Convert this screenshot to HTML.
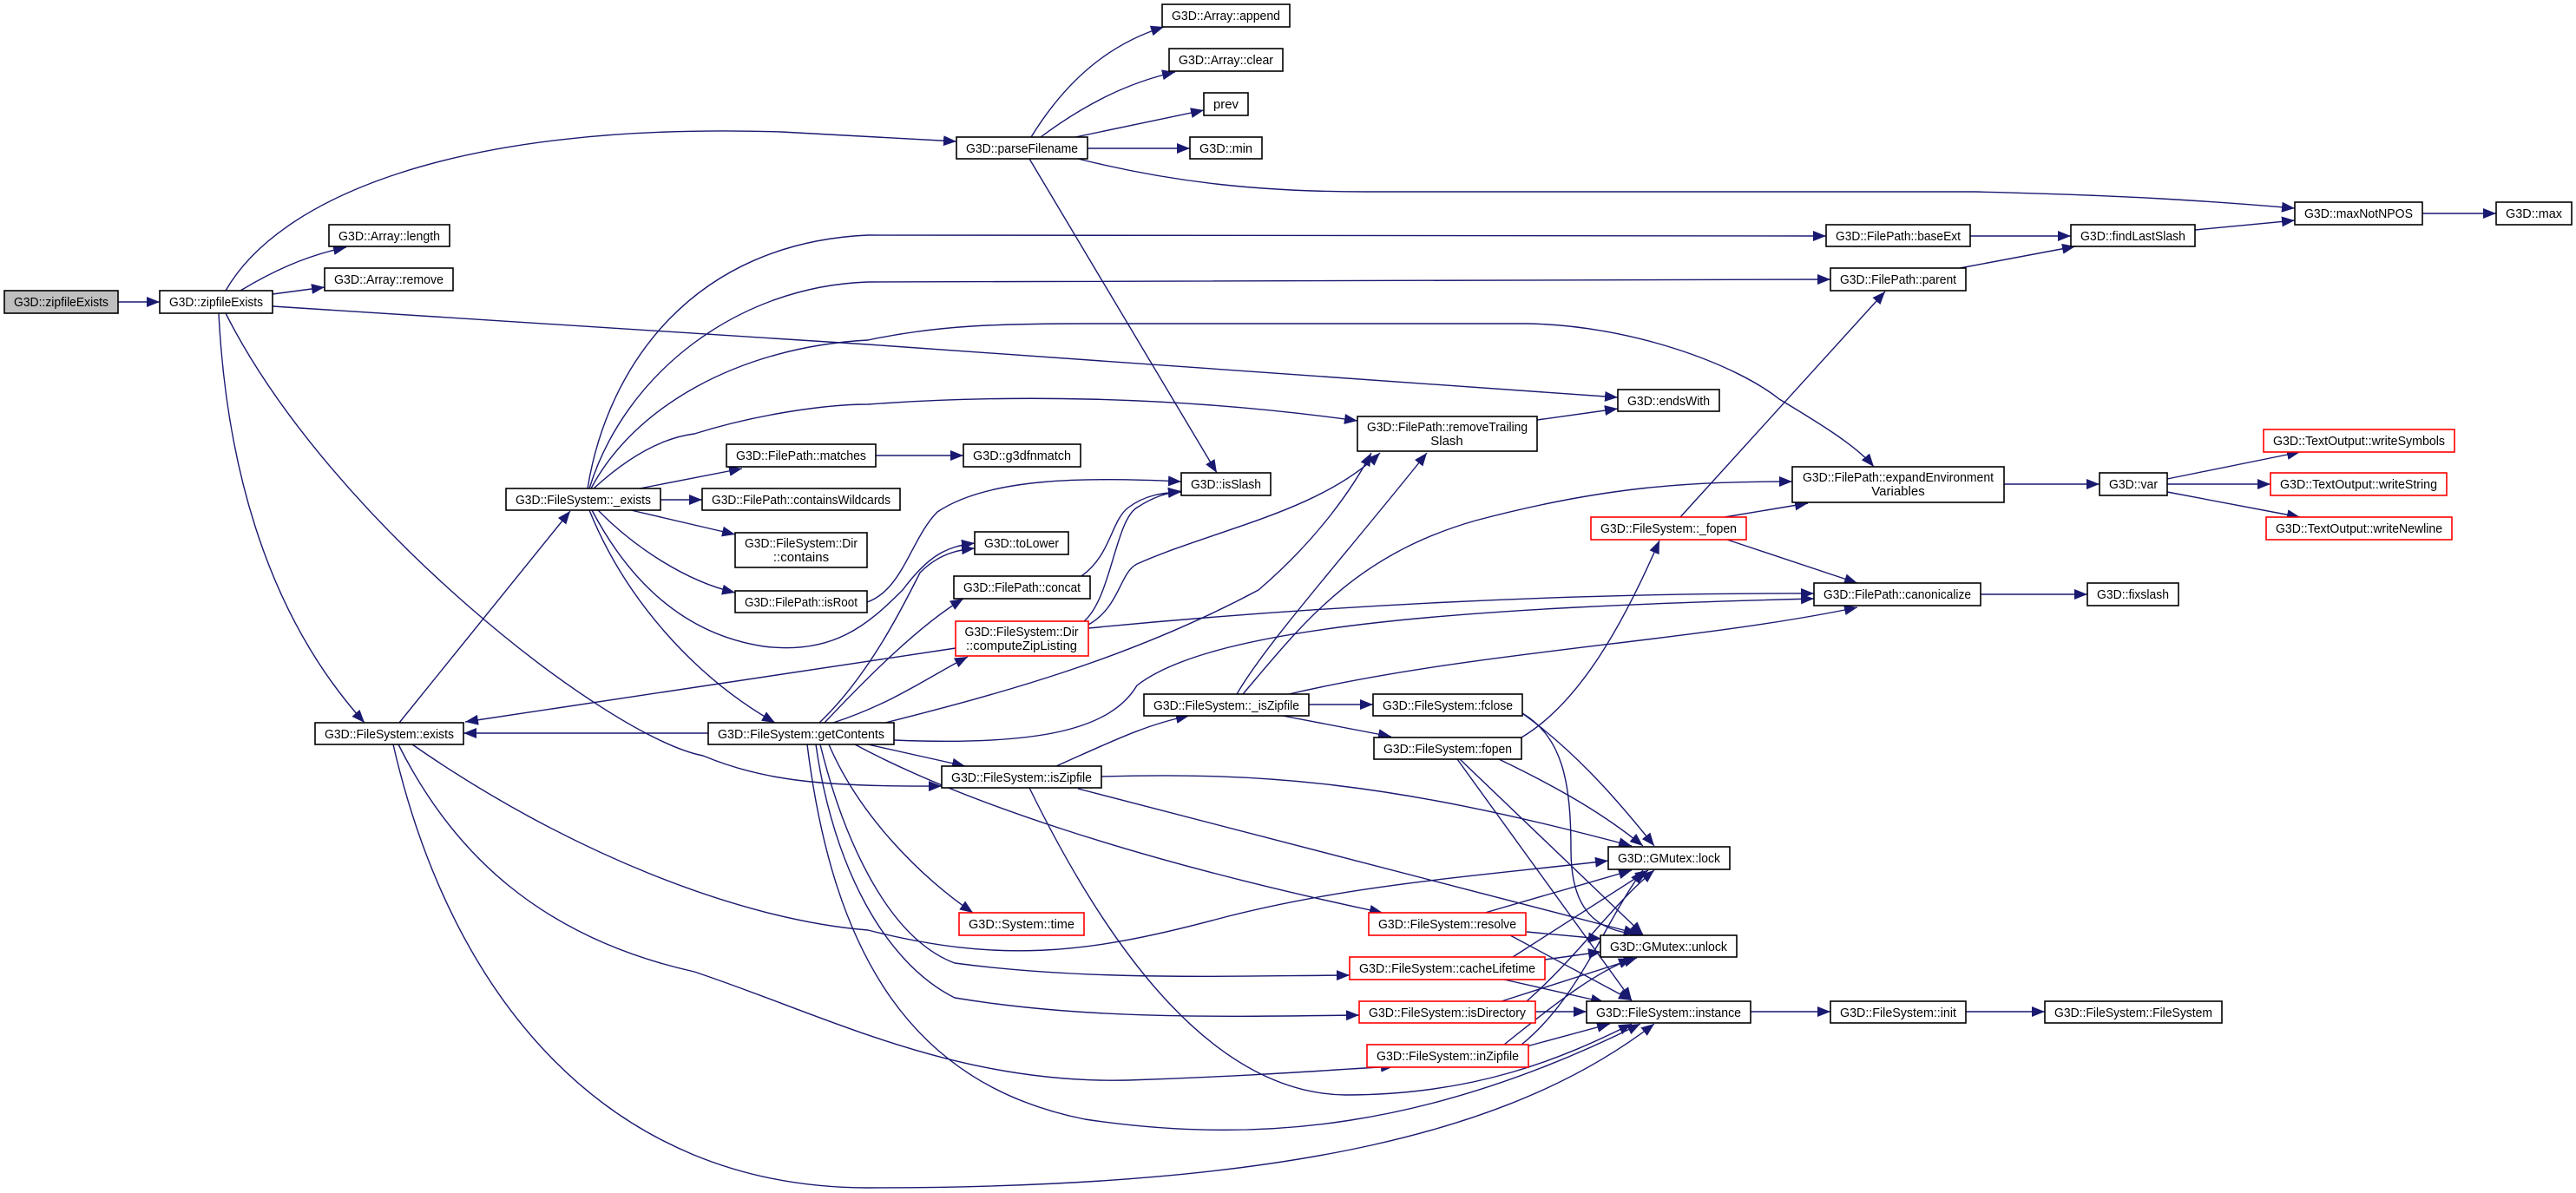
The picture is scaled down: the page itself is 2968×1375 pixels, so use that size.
<!DOCTYPE html>
<html><head><meta charset="utf-8"><style>
html,body{margin:0;padding:0;background:#fff;}
svg{display:block;}
text{font-family:"Liberation Sans","DejaVu Sans",sans-serif;font-size:15px;fill:#000;}
.n{fill:#fff;stroke:#000;stroke-width:1.6;}
.r{fill:#fff;stroke:#ff0000;stroke-width:1.6;}
.g{fill:#bfbfbf;stroke:#000;stroke-width:1.6;}
.e{fill:none;stroke:#191970;stroke-width:1.4;marker-end:url(#a);}
</style></head><body>
<svg width="2968" height="1375" viewBox="0 0 2968 1375" xmlns="http://www.w3.org/2000/svg">
<defs><marker id="a" markerUnits="userSpaceOnUse" markerWidth="16" markerHeight="12" refX="15" refY="6" orient="auto"><path d="M0,0 L15,6 L0,12 z" fill="#191970"/></marker></defs>
<g>
<path class="e" d="M136,348 L184,348"/>
<path class="e" d="M260,335 C320,230 520,140 900,152 L1102,163"/>
<path class="e" d="M277,335 C310,315 350,295 399,285"/>
<path class="e" d="M314,339 L374,331"/>
<path class="e" d="M314,353 L1000,397 L1864,458"/>
<path class="e" d="M252,361 C260,520 300,700 420,833"/>
<path class="e" d="M260,361 C380,600 700,850 810,871 C880,900 950,907 1085,906"/>
<path class="e" d="M677,563 C700,420 800,280 1000,271 L2104,272"/>
<path class="e" d="M679,563 C720,430 850,330 1000,325 L2109,322"/>
<path class="e" d="M681,563 C730,470 850,400 1000,392 C1080,375 1150,373 1250,373 L1760,373 C1880,375 2000,420 2050,460 C2100,490 2140,515 2159,538"/>
<path class="e" d="M684,563 C720,530 760,505 800,500 C870,478 950,466 1000,466 C1150,455 1350,455 1564,485"/>
<path class="e" d="M737,563 L855,540"/>
<path class="e" d="M761,576 L809,576"/>
<path class="e" d="M727,588 L847,616"/>
<path class="e" d="M689,588 C730,630 790,670 847,683"/>
<path class="e" d="M682,588 C720,660 780,730 880,745 C960,755 1000,720 1040,680 C1070,640 1090,630 1123,626"/>
<path class="e" d="M679,588 C720,690 800,780 893,833"/>
<path class="e" d="M460,833 L657,589"/>
<path class="e" d="M1009,525 L1110,525"/>
<path class="e" d="M999,694 C1040,680 1050,620 1080,590 C1140,550 1250,550 1361,555"/>
<path class="e" d="M816,845 L534,845"/>
<path class="e" d="M1101,747 L536,832"/>
<path class="e" d="M944,833 C1000,780 1040,700 1060,660 C1080,640 1100,634 1123,632"/>
<path class="e" d="M950,833 C1000,780 1060,720 1110,690"/>
<path class="e" d="M960,833 C1030,810 1070,780 1115,757"/>
<path class="e" d="M1246,664 C1280,640 1280,600 1300,585 C1320,570 1340,568 1361,567"/>
<path class="e" d="M1249,716 C1280,690 1285,600 1310,585 C1330,572 1345,568 1361,566"/>
<path class="e" d="M1020,833 C1150,800 1300,760 1450,680 C1520,620 1560,560 1580,522"/>
<path class="e" d="M1254,720 C1290,700 1290,660 1310,650 C1400,610 1520,590 1590,522"/>
<path class="e" d="M1425,800 C1460,740 1550,640 1644,522"/>
<path class="e" d="M1432,800 C1500,720 1560,640 1700,600 C1850,560 1950,555 2065,555"/>
<path class="e" d="M1254,724 C1500,700 1800,683 2090,684"/>
<path class="e" d="M1485,800 C1700,750 1950,740 2140,700"/>
<path class="e" d="M1030,853 C1200,860 1280,840 1310,790 C1400,720 1700,700 2090,690"/>
<path class="e" d="M1990,622 L2140,672"/>
<path class="e" d="M1987,596 L2083,580"/>
<path class="e" d="M1936,596 L2172,336"/>
<path class="e" d="M1753,850 C1820,810 1870,720 1912,623"/>
<path class="e" d="M1508,812 L1582,812"/>
<path class="e" d="M1478,825 L1603,849"/>
<path class="e" d="M1217,883 C1280,855 1320,835 1370,825"/>
<path class="e" d="M1000,858 L1112,883"/>
<path class="e" d="M955,858 C990,940 1060,1010 1121,1052"/>
<path class="e" d="M985,858 C1100,920 1300,990 1593,1052"/>
<path class="e" d="M945,858 C970,960 1020,1080 1100,1110 C1250,1130 1400,1125 1555,1124"/>
<path class="e" d="M940,858 C960,1000 1020,1110 1100,1150 C1250,1175 1400,1172 1566,1170"/>
<path class="e" d="M475,858 C650,980 850,1060 1000,1072 C1150,1110 1250,1100 1400,1060 C1550,1020 1700,1010 1853,992"/>
<path class="e" d="M459,858 C520,980 620,1080 800,1120 C950,1170 1100,1250 1300,1245 C1450,1240 1550,1232 1606,1229"/>
<path class="e" d="M453,858 C520,1150 700,1369 1000,1369 C1500,1369 1750,1300 1906,1180"/>
<path class="e" d="M930,858 C960,1100 1050,1250 1250,1290 C1450,1320 1650,1300 1890,1180"/>
<path class="e" d="M1186,908 C1280,1100 1400,1260 1550,1262 C1700,1262 1800,1220 1880,1180"/>
<path class="e" d="M1269,895 C1450,890 1600,900 1880,975"/>
<path class="e" d="M1242,909 L1886,1076"/>
<path class="e" d="M1754,822 C1820,870 1870,930 1906,975"/>
<path class="e" d="M1754,822 C1800,850 1810,900 1810,980 C1810,1060 1850,1075 1893,1077"/>
<path class="e" d="M1727,875 C1800,910 1850,940 1893,975"/>
<path class="e" d="M1682,875 L1893,1077"/>
<path class="e" d="M1679,875 L1880,1153"/>
<path class="e" d="M1711,1052 L1880,1003"/>
<path class="e" d="M1759,1074 L1845,1082"/>
<path class="e" d="M1740,1078 L1880,1153"/>
<path class="e" d="M1743,1103 L1899,1003"/>
<path class="e" d="M1780,1106 L1845,1097"/>
<path class="e" d="M1733,1129 L1848,1155"/>
<path class="e" d="M1759,1154 C1820,1100 1860,1040 1906,1003"/>
<path class="e" d="M1730,1154 L1886,1104"/>
<path class="e" d="M1769,1166 L1828,1166"/>
<path class="e" d="M1753,1204 C1820,1150 1850,1060 1893,1003"/>
<path class="e" d="M1733,1204 C1800,1150 1840,1120 1880,1105"/>
<path class="e" d="M1759,1206 L1855,1180"/>
<path class="e" d="M2017,1166 L2109,1166"/>
<path class="e" d="M2265,1166 L2356,1166"/>
<path class="e" d="M1188,158 C1230,90 1280,50 1341,31"/>
<path class="e" d="M1199,158 C1250,120 1300,95 1354,83"/>
<path class="e" d="M1239,158 L1387,127"/>
<path class="e" d="M1253,171 L1371,171"/>
<path class="e" d="M1242,183 C1350,210 1450,221 1574,221 L2274,221 C2450,225 2550,232 2644,240"/>
<path class="e" d="M1186,183 L1402,545"/>
<path class="e" d="M2270,272 L2386,272"/>
<path class="e" d="M2258,309 L2391,284"/>
<path class="e" d="M2529,265 L2644,254"/>
<path class="e" d="M2791,246 L2876,246"/>
<path class="e" d="M1771,484 L1864,471"/>
<path class="e" d="M2309,558 L2419,558"/>
<path class="e" d="M2497,552 L2650,521"/>
<path class="e" d="M2497,558 L2616,558"/>
<path class="e" d="M2497,567 L2650,596"/>
<path class="e" d="M2282,685 L2405,685"/>
</g>
<g>
<rect class="g" x="5" y="335" width="131" height="26"/><text x="16" y="353" textLength="109" lengthAdjust="spacingAndGlyphs">G3D::zipfileExists</text>
<rect class="n" x="184" y="335" width="130" height="26"/><text x="195" y="353" textLength="108" lengthAdjust="spacingAndGlyphs">G3D::zipfileExists</text>
<rect class="n" x="379" y="259" width="139" height="25"/><text x="390" y="277" textLength="117" lengthAdjust="spacingAndGlyphs">G3D::Array::length</text>
<rect class="n" x="374" y="309" width="148" height="26"/><text x="385" y="327" textLength="126" lengthAdjust="spacingAndGlyphs">G3D::Array::remove</text>
<rect class="n" x="1102" y="158" width="151" height="25"/><text x="1113" y="176" textLength="129" lengthAdjust="spacingAndGlyphs">G3D::parseFilename</text>
<rect class="n" x="1339" y="5" width="147" height="26"/><text x="1350" y="23" textLength="125" lengthAdjust="spacingAndGlyphs">G3D::Array::append</text>
<rect class="n" x="1347" y="56" width="131" height="26"/><text x="1358" y="74" textLength="109" lengthAdjust="spacingAndGlyphs">G3D::Array::clear</text>
<rect class="n" x="1387" y="107" width="51" height="26"/><text x="1398" y="125" textLength="29" lengthAdjust="spacingAndGlyphs">prev</text>
<rect class="n" x="1371" y="158" width="83" height="25"/><text x="1382" y="176" textLength="61" lengthAdjust="spacingAndGlyphs">G3D::min</text>
<rect class="n" x="2644" y="233" width="147" height="26"/><text x="2655" y="251" textLength="125" lengthAdjust="spacingAndGlyphs">G3D::maxNotNPOS</text>
<rect class="n" x="2876" y="233" width="87" height="26"/><text x="2887" y="251" textLength="65" lengthAdjust="spacingAndGlyphs">G3D::max</text>
<rect class="n" x="2104" y="259" width="166" height="25"/><text x="2115" y="277" textLength="144" lengthAdjust="spacingAndGlyphs">G3D::FilePath::baseExt</text>
<rect class="n" x="2386" y="259" width="143" height="25"/><text x="2397" y="277" textLength="121" lengthAdjust="spacingAndGlyphs">G3D::findLastSlash</text>
<rect class="n" x="2109" y="309" width="156" height="26"/><text x="2120" y="327" textLength="134" lengthAdjust="spacingAndGlyphs">G3D::FilePath::parent</text>
<rect class="n" x="1864" y="449" width="117" height="25"/><text x="1875" y="467" textLength="95" lengthAdjust="spacingAndGlyphs">G3D::endsWith</text>
<rect class="n" x="1564" y="480" width="207" height="40"/><text x="1575" y="497" textLength="185" lengthAdjust="spacingAndGlyphs">G3D::FilePath::removeTrailing</text><text x="1667" y="513" text-anchor="middle">Slash</text>
<rect class="n" x="583" y="563" width="178" height="25"/><text x="594" y="581" textLength="156" lengthAdjust="spacingAndGlyphs">G3D::FileSystem::_exists</text>
<rect class="n" x="837" y="512" width="172" height="26"/><text x="848" y="530" textLength="150" lengthAdjust="spacingAndGlyphs">G3D::FilePath::matches</text>
<rect class="n" x="1110" y="512" width="135" height="26"/><text x="1121" y="530" textLength="113" lengthAdjust="spacingAndGlyphs">G3D::g3dfnmatch</text>
<rect class="n" x="809" y="563" width="228" height="25"/><text x="820" y="581" textLength="206" lengthAdjust="spacingAndGlyphs">G3D::FilePath::containsWildcards</text>
<rect class="n" x="847" y="614" width="152" height="40"/><text x="923" y="631" text-anchor="middle" textLength="130" lengthAdjust="spacingAndGlyphs">G3D::FileSystem::Dir</text><text x="923" y="647" text-anchor="middle">::contains</text>
<rect class="n" x="847" y="681" width="152" height="25"/><text x="858" y="699" textLength="130" lengthAdjust="spacingAndGlyphs">G3D::FilePath::isRoot</text>
<rect class="n" x="1361" y="545" width="103" height="26"/><text x="1372" y="563" textLength="81" lengthAdjust="spacingAndGlyphs">G3D::isSlash</text>
<rect class="n" x="1123" y="613" width="108" height="26"/><text x="1134" y="631" textLength="86" lengthAdjust="spacingAndGlyphs">G3D::toLower</text>
<rect class="n" x="1099" y="664" width="157" height="26"/><text x="1110" y="682" textLength="135" lengthAdjust="spacingAndGlyphs">G3D::FilePath::concat</text>
<rect class="r" x="1101" y="716" width="153" height="40"/><text x="1177" y="733" text-anchor="middle" textLength="131" lengthAdjust="spacingAndGlyphs">G3D::FileSystem::Dir</text><text x="1177" y="749" text-anchor="middle" textLength="128" lengthAdjust="spacingAndGlyphs">::computeZipListing</text>
<rect class="n" x="2065" y="538" width="244" height="41"/><text x="2187" y="555" text-anchor="middle" textLength="220" lengthAdjust="spacingAndGlyphs">G3D::FilePath::expandEnvironment</text><text x="2187" y="571" text-anchor="middle">Variables</text>
<rect class="n" x="2419" y="545" width="78" height="26"/><text x="2430" y="563" textLength="56" lengthAdjust="spacingAndGlyphs">G3D::var</text>
<rect class="r" x="2608" y="495" width="220" height="26"/><text x="2619" y="513" textLength="198" lengthAdjust="spacingAndGlyphs">G3D::TextOutput::writeSymbols</text>
<rect class="r" x="2616" y="545" width="203" height="26"/><text x="2627" y="563" textLength="181" lengthAdjust="spacingAndGlyphs">G3D::TextOutput::writeString</text>
<rect class="r" x="2611" y="596" width="214" height="26"/><text x="2622" y="614" textLength="192" lengthAdjust="spacingAndGlyphs">G3D::TextOutput::writeNewline</text>
<rect class="r" x="1833" y="596" width="179" height="26"/><text x="1844" y="614" textLength="157" lengthAdjust="spacingAndGlyphs">G3D::FileSystem::_fopen</text>
<rect class="n" x="2090" y="672" width="192" height="26"/><text x="2101" y="690" textLength="170" lengthAdjust="spacingAndGlyphs">G3D::FilePath::canonicalize</text>
<rect class="n" x="2405" y="672" width="105" height="26"/><text x="2416" y="690" textLength="83" lengthAdjust="spacingAndGlyphs">G3D::fixslash</text>
<rect class="n" x="363" y="833" width="171" height="25"/><text x="374" y="851" textLength="149" lengthAdjust="spacingAndGlyphs">G3D::FileSystem::exists</text>
<rect class="n" x="816" y="833" width="214" height="25"/><text x="827" y="851" textLength="192" lengthAdjust="spacingAndGlyphs">G3D::FileSystem::getContents</text>
<rect class="n" x="1318" y="800" width="190" height="25"/><text x="1329" y="818" textLength="168" lengthAdjust="spacingAndGlyphs">G3D::FileSystem::_isZipfile</text>
<rect class="n" x="1582" y="800" width="172" height="25"/><text x="1593" y="818" textLength="150" lengthAdjust="spacingAndGlyphs">G3D::FileSystem::fclose</text>
<rect class="n" x="1583" y="850" width="170" height="25"/><text x="1594" y="868" textLength="148" lengthAdjust="spacingAndGlyphs">G3D::FileSystem::fopen</text>
<rect class="n" x="1085" y="883" width="184" height="25"/><text x="1096" y="901" textLength="162" lengthAdjust="spacingAndGlyphs">G3D::FileSystem::isZipfile</text>
<rect class="r" x="1105" y="1052" width="144" height="26"/><text x="1116" y="1070" textLength="122" lengthAdjust="spacingAndGlyphs">G3D::System::time</text>
<rect class="r" x="1577" y="1052" width="181" height="26"/><text x="1588" y="1070" textLength="159" lengthAdjust="spacingAndGlyphs">G3D::FileSystem::resolve</text>
<rect class="r" x="1555" y="1103" width="225" height="26"/><text x="1566" y="1121" textLength="203" lengthAdjust="spacingAndGlyphs">G3D::FileSystem::cacheLifetime</text>
<rect class="r" x="1566" y="1154" width="203" height="25"/><text x="1577" y="1172" textLength="181" lengthAdjust="spacingAndGlyphs">G3D::FileSystem::isDirectory</text>
<rect class="r" x="1575" y="1204" width="186" height="26"/><text x="1586" y="1222" textLength="164" lengthAdjust="spacingAndGlyphs">G3D::FileSystem::inZipfile</text>
<rect class="n" x="1853" y="976" width="140" height="26"/><text x="1864" y="994" textLength="118" lengthAdjust="spacingAndGlyphs">G3D::GMutex::lock</text>
<rect class="n" x="1844" y="1078" width="157" height="25"/><text x="1855" y="1096" textLength="135" lengthAdjust="spacingAndGlyphs">G3D::GMutex::unlock</text>
<rect class="n" x="1828" y="1154" width="189" height="25"/><text x="1839" y="1172" textLength="167" lengthAdjust="spacingAndGlyphs">G3D::FileSystem::instance</text>
<rect class="n" x="2109" y="1154" width="156" height="25"/><text x="2120" y="1172" textLength="134" lengthAdjust="spacingAndGlyphs">G3D::FileSystem::init</text>
<rect class="n" x="2356" y="1154" width="204" height="25"/><text x="2367" y="1172" textLength="182" lengthAdjust="spacingAndGlyphs">G3D::FileSystem::FileSystem</text>
</g>
</svg>
</body></html>
